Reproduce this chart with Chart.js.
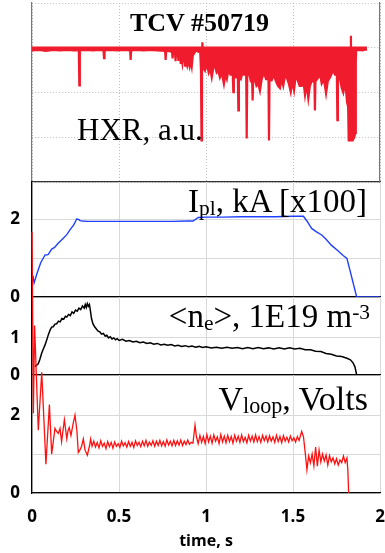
<!DOCTYPE html>
<html><head><meta charset="utf-8">
<script src="https://cdn.jsdelivr.net/npm/chart.js@4.4.1/dist/chart.umd.min.js"></script>
<style>
html,body{margin:0;padding:0;background:#fff;}
body{width:385px;height:553px;position:relative;overflow:hidden;}
canvas{position:absolute;left:0;top:0;}
.lbl{position:absolute;font-family:"Liberation Serif",serif;line-height:1;white-space:nowrap;color:#000;}
.lbl sub{font-size:0.65em;line-height:0;vertical-align:-0.12em;}
.lbl sup{font-size:0.65em;line-height:0;vertical-align:0.38em;}
</style></head><body>
<canvas id="cH" width="385" height="553"></canvas>
<canvas id="cI" width="385" height="553"></canvas>
<canvas id="cN" width="385" height="553"></canvas>
<canvas id="cV" width="385" height="553"></canvas>
<div class="lbl" style="left:130px;top:10px;font-size:26px;font-weight:bold;">TCV #50719</div>
<div class="lbl" style="left:77px;top:114px;font-size:31px;">HXR, a.u.</div>
<div class="lbl" style="right:18px;top:185px;font-size:33px;">I<sub>pl</sub>, kA [x100]</div>
<div class="lbl" style="right:15px;top:300px;font-size:33px;">&lt;n<sub>e</sub>&gt;, 1E19 m<sup>-3</sup></div>
<div class="lbl" style="right:17px;top:381.5px;font-size:34px;">V<sub>loop</sub>, Volts</div>
<script>
// ---- tick values ----
const xTicks = [0, 0.5, 1, 1.5, 2];
const hxrTicks = [-3, -2, -1, 0, 1];
const iplTicks = [0, 1, 2];
const iplLabels = [0, 2];
const neTicks = [0, 1];
const neLabels = [0, 1];
const vTicks = [0, 1, 2];
const vLabels = [0, 2];

// ---- HXR (a.u.) ----
const hxrT = [0.000,0.04,0.08,0.12,0.16,0.2,0.24,
0.269,0.272,0.275,0.31,0.35,0.39,
0.411,0.414,0.417,0.45,0.49,0.53,
0.564,0.567,0.570,0.6,0.64,0.68,0.72,
0.765,0.768,0.771,0.79,0.805,0.808,0.811,
0.822,0.825,0.828,0.838,0.841,0.844,
0.852,0.855,0.858,0.864,0.868,0.876,0.88,0.885,0.892,0.898,0.906,0.912,0.918,0.924,
0.935,0.945,0.955,0.967,0.971,0.974,0.977,0.979,
0.985,0.994,1.005,1.015,1.023,1.033,1.042,1.052,1.061,1.07,1.08,1.09,1.103,1.112,1.12,1.128,1.14,
1.154,1.157,1.16,1.172,1.183,1.186,1.189,1.2,1.21,1.218,
1.231,1.234,1.237,1.249,1.258,1.265,1.268,1.271,
1.28,1.29,1.3,1.31,1.32,1.333,1.345,1.359,1.362,1.365,
1.377,1.39,1.402,1.414,1.425,1.434,1.444,1.454,1.464,1.476,1.487,1.496,1.506,1.515,1.525,1.538,1.55,1.56,1.569,1.578,1.588,1.597,1.607,
1.623,1.626,1.629,1.646,1.656,1.665,1.678,1.69,1.7,1.713,1.722,1.732,1.741,
1.752,1.755,1.758,1.77,1.78,1.789,1.8,1.808,1.815,
1.82,1.831,1.833,1.835,1.843,1.852,1.858,1.861,1.863,1.88,1.9,1.915,1.925];
const hxrV = [-0.06,-0.05,-0.07,-0.05,-0.06,-0.05,-0.06,
-0.06,-0.84,-0.06,-0.05,-0.06,-0.05,
-0.06,-0.23,-0.06,-0.05,-0.06,-0.05,
-0.06,-0.27,-0.06,-0.05,-0.06,-0.05,-0.06,
-0.07,-0.27,-0.08,-0.07,-0.1,-0.24,-0.1,
-0.12,-0.3,-0.12,-0.1,-0.27,-0.12,
-0.2,-0.36,-0.22,-0.35,-0.18,-0.25,-0.4,-0.3,-0.4,-0.28,-0.42,-0.3,-0.42,-0.18,
-0.1,-0.06,-0.09,-0.1,-0.5,-2.07,-0.5,0.12,
-0.45,-0.51,-0.35,-0.55,-0.45,-0.66,-0.45,-0.4,-0.55,-0.5,-0.66,-0.55,-0.81,-0.6,-0.7,-0.51,-0.6,
-0.6,-0.99,-0.6,-0.66,-0.65,-1.4,-0.65,-0.7,-0.55,-0.6,
-0.6,-2.03,-0.6,-0.6,-0.75,-0.75,-1.18,-0.75,
-0.7,-0.85,-0.8,-0.96,-0.7,-0.55,-0.7,-0.7,-2.07,-0.7,
-0.73,-0.6,-0.75,-0.85,-0.9,-0.7,-0.85,-0.62,-0.66,-0.8,-0.99,-0.75,-0.95,-0.65,-0.7,-0.85,-0.85,-0.75,-1.05,-0.8,-1.13,-0.85,-0.75,
-0.75,-1.4,-0.75,-0.66,-0.6,-0.8,-0.7,-1.02,-0.75,-0.66,-0.58,-0.5,-0.6,
-0.6,-1.62,-0.6,-0.7,-0.9,-1.0,-0.75,-1.1,-0.9,
-2.07,-2.07,0.27,-2.07,-2.07,-2.0,-1.9,-0.3,-0.06,-0.05,-0.06,-0.04,-0.05];

// ---- Plasma current Ipl (kA x100) ----
const iplT = [0.005,0.012,0.03,0.05,0.075,0.09,0.095,0.113,0.13,0.15,0.18,0.2,0.218,0.24,0.257,0.268,0.276,0.29,0.32,0.4,0.5,0.6,0.7,0.8,0.9,0.926,0.955,1.0,1.1,1.2,1.3,1.4,1.5,1.56,1.58,1.607,1.635,1.665,1.69,1.72,1.76,1.79,1.81,1.866,2.0];
const iplV = [0.55,0.36,0.62,0.88,1.08,1.08,1.1,1.23,1.27,1.38,1.51,1.6,1.72,1.85,2.0,1.99,1.96,1.95,1.94,1.94,1.94,1.94,1.94,1.94,1.95,1.95,2.04,2.05,2.05,2.06,2.06,2.06,2.07,2.07,1.95,1.76,1.67,1.59,1.48,1.33,1.18,1.06,0.99,0.0,0.0];

// ---- Line-averaged density <ne> (1E19 m^-3) ----
const neT = [0.017,0.025,0.036,0.045,0.055,0.065,0.075,0.085,0.095,0.105,0.113,0.122,0.132,0.142,0.152,0.162,0.172,0.182,0.192,0.2,0.21,0.22,0.23,0.24,0.25,0.26,0.27,0.28,0.29,0.3,0.306,0.312,0.318,0.324,0.33,0.336,0.342,0.35,0.36,0.37,0.38,0.39,0.4,0.41,0.42,0.43,0.44,0.45,0.46,0.47,0.48,0.49,0.5,0.52,0.54,0.56,0.58,0.6,0.62,0.64,0.66,0.68,0.7,0.72,0.74,0.76,0.78,0.8,0.82,0.84,0.86,0.88,0.9,0.92,0.94,0.96,0.98,1.0,1.03,1.06,1.09,1.12,1.15,1.18,1.21,1.24,1.27,1.3,1.33,1.36,1.39,1.42,1.45,1.48,1.51,1.54,1.57,1.6,1.63,1.66,1.69,1.72,1.75,1.78,1.81,1.83,1.846,1.856,1.866];
const neV = [0.22,0.26,0.3,0.42,0.58,0.7,0.81,0.95,1.1,1.22,1.29,1.3,1.37,1.38,1.45,1.43,1.52,1.5,1.58,1.56,1.63,1.6,1.7,1.66,1.75,1.72,1.8,1.76,1.86,1.8,1.9,1.82,1.92,1.85,1.9,1.72,1.52,1.38,1.3,1.24,1.18,1.16,1.1,1.12,1.05,1.07,1.0,1.03,0.97,1.0,0.95,0.98,0.93,0.96,0.91,0.93,0.89,0.91,0.87,0.89,0.85,0.87,0.83,0.85,0.81,0.83,0.8,0.82,0.78,0.8,0.77,0.79,0.76,0.78,0.75,0.77,0.74,0.76,0.73,0.75,0.72,0.75,0.72,0.74,0.71,0.74,0.71,0.74,0.71,0.73,0.7,0.73,0.7,0.73,0.7,0.72,0.68,0.68,0.64,0.63,0.58,0.56,0.51,0.5,0.45,0.41,0.32,0.22,0.0];

// ---- Loop voltage (V) ----
const vT = [0.0,0.008,0.015,0.036,0.056,0.08,0.1,0.113,0.132,0.142,0.151,0.161,0.17,0.186,0.2,0.207,0.214,0.224,0.235,0.247,0.258,0.266,0.275,0.285,0.295,0.305,0.318,0.33,0.337,
0.345,0.355,0.365,0.375,0.385,0.395,0.405,0.415,0.425,0.435,0.445,0.455,0.465,0.475,0.485,0.495,0.505,0.515,0.525,0.535,0.545,0.555,0.565,0.575,0.585,0.595,0.605,0.615,0.625,0.635,0.645,0.655,0.665,0.675,0.685,0.695,0.705,0.715,0.725,0.735,0.745,0.755,0.765,0.775,0.785,0.795,0.805,0.815,0.825,0.835,0.845,0.855,0.865,0.875,0.885,0.895,0.905,0.915,0.925,0.937,0.945,
0.955,0.965,0.975,0.985,0.995,1.005,1.015,1.025,1.035,1.045,1.055,1.065,1.075,1.085,1.095,1.105,1.115,1.125,1.135,1.145,1.155,1.165,1.175,1.185,1.195,1.205,1.215,1.225,1.235,1.245,1.255,1.265,1.275,1.285,1.295,1.305,1.315,1.325,1.335,1.345,1.355,1.365,1.375,1.385,1.395,1.405,1.415,1.425,1.435,1.445,1.455,1.465,1.475,1.485,1.495,1.505,1.515,1.525,1.535,1.55,1.56,
1.57,1.58,1.59,1.6,1.61,1.62,1.63,1.64,1.65,1.66,1.67,1.68,1.69,1.7,1.71,1.72,1.73,1.74,1.75,1.76,1.77,1.78,1.79,1.8,1.81,1.815,1.82];
const vV = [6.7,2.05,4.3,1.61,3.1,0.74,2.27,1.0,1.66,1.58,1.53,1.66,1.32,1.88,1.39,1.6,1.68,1.48,1.75,2.0,1.6,1.04,1.1,1.2,1.39,1.1,0.97,1.2,1.39,
1.2,1.33,1.18,1.3,1.16,1.34,1.2,1.28,1.14,1.32,1.19,1.3,1.15,1.31,1.2,1.27,1.17,1.33,1.21,1.29,1.18,1.32,1.2,1.3,1.17,1.34,1.22,1.3,1.19,1.33,1.21,1.35,1.2,1.31,1.22,1.34,1.2,1.33,1.22,1.35,1.21,1.32,1.2,1.36,1.23,1.33,1.21,1.35,1.22,1.34,1.23,1.36,1.22,1.33,1.24,1.36,1.25,1.3,1.28,1.74,1.45,
1.27,1.48,1.3,1.45,1.27,1.5,1.31,1.46,1.28,1.49,1.33,1.44,1.27,1.5,1.31,1.46,1.29,1.48,1.32,1.45,1.28,1.48,1.33,1.46,1.3,1.49,1.32,1.43,1.29,1.48,1.33,1.46,1.31,1.49,1.32,1.45,1.3,1.48,1.34,1.46,1.31,1.47,1.33,1.44,1.3,1.48,1.32,1.45,1.29,1.47,1.33,1.43,1.31,1.46,1.34,1.42,1.31,1.45,1.35,1.58,1.45,
1.05,0.6,0.95,0.78,1.0,0.7,1.18,0.69,1.1,0.8,1.0,0.82,0.98,0.72,0.96,0.8,0.9,0.75,0.88,0.72,0.85,0.78,0.95,0.78,0.9,0.6,0.0];

const pts = (T, V) => T.map((t, i) => ({x: t, y: V[i]}));
const ticksAt = vals => s => { s.ticks = vals.map(v => ({value: v})); };
const fixY = w => s => { s.width = w; s.paddingTop = 0; s.paddingBottom = 0; };
const fixX = h => s => { s.height = h; s.paddingLeft = 0; s.paddingRight = 0; };
const tickFont = {family: 'Open Sans', weight: 'bold', size: 17};
const lightGrid = '#d9d9d9';

function make(id, top, bottom, datasets, scales) {
  return new Chart(document.getElementById(id), {
    type: 'line',
    data: {datasets},
    options: {
      responsive: false, animation: false, devicePixelRatio: 1,
      layout: {padding: {left: 0, right: 5, top, bottom}},
      plugins: {legend: {display: false}, tooltip: {enabled: false}},
      elements: {point: {radius: 0}, line: {tension: 0}},
      scales
    }
  });
}

function xHidden(gridColor, dash, borderColor) {
  return {type: 'linear', min: 0, max: 2, afterBuildTicks: ticksAt(xTicks),
    ticks: {display: false}, grid: {color: gridColor, drawTicks: false},
    border: {color: borderColor, width: 1.3, dash: dash}, afterFit: fixX(0)};
}
function yLab(min, max, tv, lv) {
  return {min, max, afterBuildTicks: ticksAt(tv),
    ticks: {font: tickFont, color: '#000', padding: 12, callback: v => lv.includes(v) ? String(v) : ''},
    grid: {color: lightGrid, drawTicks: false}, border: {color: '#000', width: 1.3}, afterFit: fixY(32)};
}

// HXR panel
make('cH', 3, 553 - 182, [{data: pts(hxrT, hxrV), borderColor: '#f01c2e', backgroundColor: '#f01c2e', borderWidth: 2.2, fill: {value: 0.03}}], {
  x: xHidden('#bdbdbd', [1, 2], '#333'),
  y: {min: -3, max: 1, afterBuildTicks: ticksAt(hxrTicks), ticks: {display: false},
      grid: {color: '#bdbdbd', drawTicks: false}, border: {color: '#777', width: 1.2, dash: [1, 2]}, afterFit: fixY(32)},
  yR: {position: 'right', min: -3, max: 1, ticks: {display: false},
      grid: {drawOnChartArea: false, drawTicks: false}, border: {color: '#777', width: 1.2}, afterFit: fixY(0)}
});

// Ipl panel
make('cI', 182, 553 - 297, [{data: pts(iplT, iplV), borderColor: '#2040ff', borderWidth: 1.4}], {
  x: xHidden(lightGrid, [], '#000'),
  y: yLab(0, 2.95, iplTicks, iplLabels)
});

// ne panel
make('cN', 297, 553 - 375, [{data: pts(neT, neV), borderColor: '#000', borderWidth: 1.5}], {
  x: xHidden(lightGrid, [], '#000'),
  y: yLab(0, 2.1, neTicks, neLabels)
});

// Vloop panel
make('cV', 375, 0, [{data: pts(vT, vV), borderColor: '#ff1010', borderWidth: 1.3, clip: false}], {
  x: {type: 'linear', min: 0, max: 2, afterBuildTicks: ticksAt(xTicks),
      ticks: {font: tickFont, color: '#000', padding: 14, maxRotation: 0, callback: v => String(v)},
      grid: {color: lightGrid, drawTicks: false}, border: {color: '#000', width: 1.3},
      title: {display: true, text: 'time, s', color: '#000', font: {family: 'Open Sans', weight: 'bold', size: 16}, padding: {top: 0, bottom: 2}},
      afterFit: fixX(60)},
  y: yLab(0, 3.03, vTicks, vLabels)
});
</script>
</body></html>
